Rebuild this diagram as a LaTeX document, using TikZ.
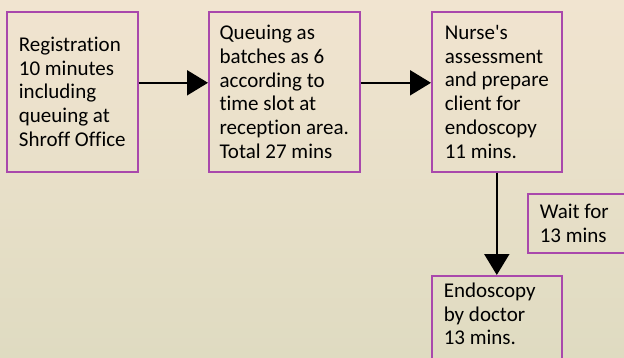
\documentclass[tikz,border=0pt]{standalone}
\usepackage{fontspec}
\setmainfont{Carlito}[Ligatures=NoCommon]
\usetikzlibrary{arrows.meta}
\definecolor{bgtop}{HTML}{F1E4D0}
\definecolor{bgbot}{HTML}{DFDBC1}
\definecolor{edgepurple}{HTML}{A948AC}
\begin{document}
\begin{tikzpicture}[x=1pt,y=-1pt,
  every node/.style={font=\fontsize{21}{23.7}\selectfont},
  stepbox/.style={draw=edgepurple,line width=1.6pt,anchor=north west,align=left,inner xsep=4pt,inner ysep=0pt},
  flow/.style={line width=2pt,-{Triangle[length=21pt,width=25pt]}}]
\useasboundingbox (0,0) rectangle (624,357);
\shade[top color=bgtop,bottom color=bgbot] (0,0) rectangle (624,357);
\clip (0,0) rectangle (624,357);
\node[stepbox,minimum width=131pt,minimum height=160pt] (reg) at (6,11) {Registration\\10 minutes\\including\\queuing at\\Shroff Office};
\node[stepbox,minimum width=151pt,minimum height=160pt] (queue) at (208,11) {Queuing as\\batches as 6\\according to\\time slot at\\reception area.\\Total 27 mins};
\node[stepbox,minimum width=130pt,minimum height=160pt] (nurse) at (431,11) {Nurse\textquotesingle s\\assessment\\and prepare\\client for\\endoscopy\\11 mins.};
\node[stepbox,minimum width=140pt,minimum height=59pt,align=flush left,inner xsep=12pt,text width=116pt] (wait) at (527,193) {Wait for\\13 mins};
\node[stepbox,minimum width=130pt,inner ysep=7pt,align=flush left,inner xsep=12pt,text width=106pt] (scope) at (431,275) {Endoscopy\\by doctor\\13 mins.\rule[-20pt]{0pt}{0pt}};
\draw[flow] ([yshift=9pt]reg.east) -- ([yshift=9pt]queue.west);
\draw[flow] ([yshift=9pt]queue.east) -- ([yshift=9pt]nurse.west);
\draw[flow] (nurse.south) -- (scope.north);
\end{tikzpicture}
\end{document}
